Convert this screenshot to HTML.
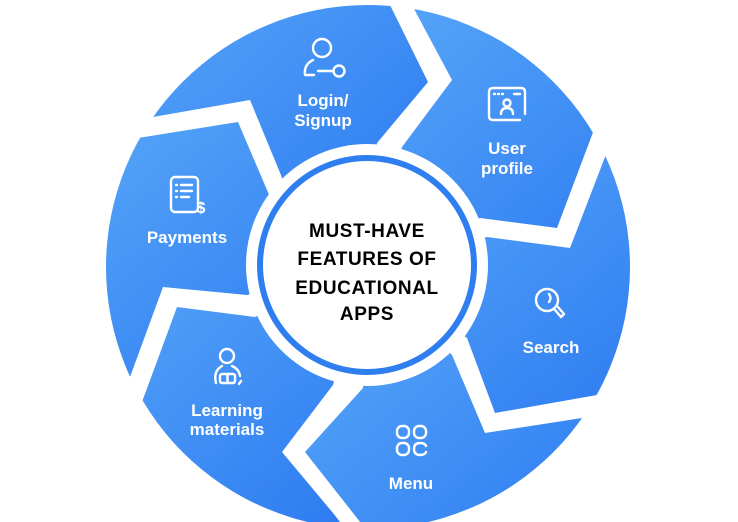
<!DOCTYPE html>
<html><head><meta charset="utf-8"><style>
html,body{margin:0;padding:0;background:#fff;width:738px;height:522px;overflow:hidden;}
svg{display:block;}
.l{font-family:"Liberation Sans",sans-serif;font-weight:bold;font-size:17px;fill:#fff;text-anchor:middle;}
.c{font-family:"Liberation Sans",sans-serif;font-weight:bold;font-size:19px;fill:#000;text-anchor:middle;letter-spacing:0.6px;}
.i{fill:none;stroke:#fff;stroke-width:2.4;stroke-linecap:round;stroke-linejoin:round;}
</style></head><body>
<svg width="738" height="522" viewBox="0 0 738 522" xmlns="http://www.w3.org/2000/svg">
<defs>
<linearGradient id="g" x1="0" y1="0" x2="1" y2="1">
<stop offset="0" stop-color="#5aaaf9"/><stop offset="1" stop-color="#2976f0"/>
</linearGradient>
<clipPath id="cc"><circle cx="368" cy="267" r="262"/></clipPath>
</defs>
<g clip-path="url(#cc)" fill="url(#g)">
<polygon points="367,265 283,180 250,100 153,117 100,126 100,-30 378,-30 390,5 428,82 377,143"/>
<polygon points="367,265 402,147 452,80 413,7 399,-30 720,-30 720,88 610,88 592,135 557,228 480,218"/>
<polygon points="367,265 487,237 570,248 605,157 622,111 720,111 720,384 660,384 597,395 495,413 467,338"/>
<polygon points="367,265 452,355 485,433 582,418 650,407 650,560 390,560 305,452 363,388"/>
<polygon points="367,265 333,385 282,452 333,513 370,560 40,560 40,440 130,435 142,402 177,307 255,317"/>
<polygon points="367,265 247,295 163,287 130,377 118,410 30,410 30,146 90,146 138,138 238,122 270,197"/>
</g>
<circle cx="367" cy="265" r="121" fill="#fff"/>
<circle cx="367" cy="265" r="110" fill="#2f7ef0"/>
<circle cx="367" cy="265" r="104" fill="#fff"/>
<text class="c" x="367" y="237">MUST-HAVE</text>
<text class="c" x="367" y="265">FEATURES OF</text>
<text class="c" x="367" y="294">EDUCATIONAL</text>
<text class="c" x="367" y="320">APPS</text>

<text class="l" x="323" y="106">Login/</text>
<text class="l" x="323" y="126">Signup</text>
<text class="l" x="507" y="154">User</text>
<text class="l" x="507" y="174">profile</text>
<text class="l" x="187" y="243">Payments</text>
<text class="l" x="551" y="353">Search</text>
<text class="l" x="411" y="489">Menu</text>
<text class="l" x="227" y="416">Learning</text>
<text class="l" x="227" y="435">materials</text>

<!-- login icon -->
<circle class="i" cx="322" cy="48" r="9"/>
<path class="i" d="M313,60 C307,63 304,68 305,75 L314,75"/>
<path class="i" d="M318,71 L333,71"/>
<circle class="i" cx="339" cy="71" r="5.5"/>
<!-- user profile icon -->
<path class="i" d="M525,114 L525,92 Q525,88 521,88 L493,88 Q489,88 489,92 L489,116 Q489,120 493,120 L520,120"/>
<path class="i" d="M494,94 L495,94 M498,94 L499,94 M502,94 L503,94 M514,94 L520,94"/>
<circle class="i" cx="507" cy="103" r="3.5"/>
<path class="i" d="M501,114 Q501,108 507,108 Q513,108 513,114"/>
<!-- payments icon -->
<rect class="i" x="171" y="177" width="27" height="35" rx="4"/>
<path class="i" d="M176,185 L177,185 M181,185 L192,185 M176,191 L177,191 M181,191 L192,191 M176,197 L177,197 M181,197 L189,197"/>
<text x="201" y="213" font-family="Liberation Sans,sans-serif" font-weight="bold" font-size="16" fill="#fff" text-anchor="middle">$</text>
<!-- search icon -->
<circle class="i" cx="547" cy="300" r="11"/>
<path class="i" d="M549,294 Q552,298 549,302"/>
<path class="i" d="M555,310 L561,317 M558,307 L564,314 M561,317 L564,314"/>
<!-- menu icon -->
<rect class="i" x="397" y="426" width="12" height="12" rx="5"/>
<rect class="i" x="414" y="426" width="12" height="12" rx="5"/>
<rect class="i" x="397" y="443" width="12" height="12" rx="5"/>
<path class="i" d="M426,446 Q425,443 420,443 Q414,443 414,449 Q414,455 420,455 Q425,455 426,452"/>
<!-- learning icon -->
<circle class="i" cx="227" cy="356" r="7"/>
<path class="i" d="M216,383 Q213,371 222,366 M232,366 Q239,369 240,376"/>
<rect class="i" x="220" y="374" width="15" height="9" rx="2"/>
<path class="i" d="M227.5,374 L227.5,383 M241,381 L239,384"/>
</svg>
</body></html>
